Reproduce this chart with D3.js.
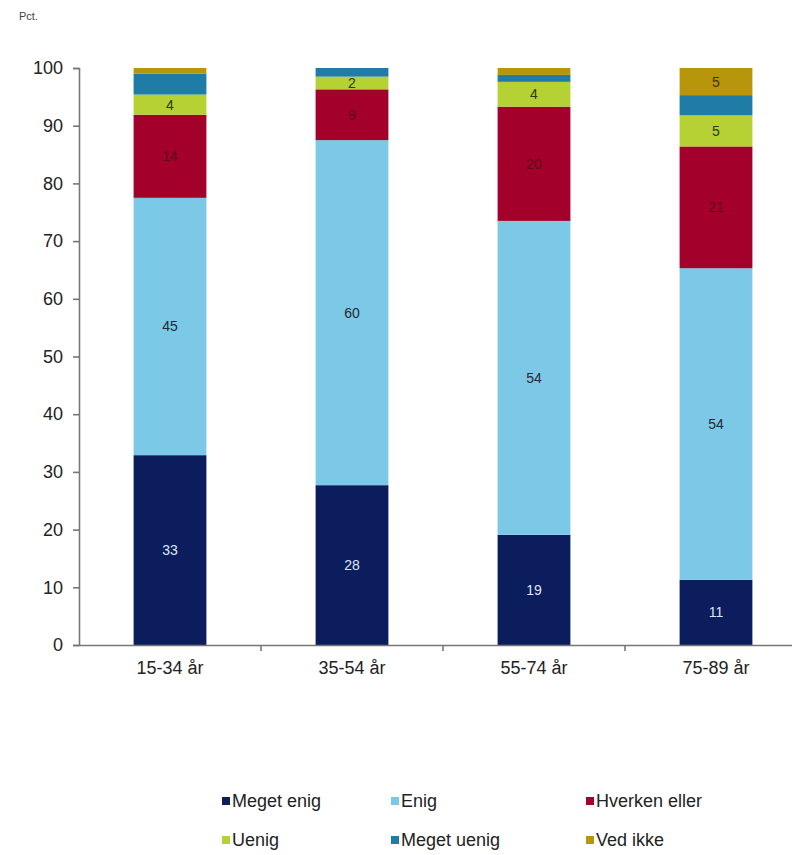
<!DOCTYPE html>
<html>
<head>
<meta charset="utf-8">
<script src="https://cdn.jsdelivr.net/npm/d3@7"></script>
<style>
  html, body { margin: 0; padding: 0; background: #fff; }
  svg { display: block; font-family: "Liberation Sans", Arial, sans-serif; }
</style>
</head>
<body>
<div id="chart"></div>
<script>
/* Data (pct. per age group) */
const categories = ["15-34 år", "35-54 år", "55-74 år", "75-89 år"];
const seriesNames = ["Meget enig", "Enig", "Hverken eller", "Uenig", "Meget uenig", "Ved ikke"];
const megetEnig  = [32.9, 27.7, 19.1, 11.3];
const enig       = [44.6, 59.8, 54.4, 54.0];
const hverken    = [14.4,  8.8, 19.8, 21.1];
const uenig      = [ 3.5,  2.2,  4.3,  5.4];
const megetUenig = [ 3.6,  1.5,  1.2,  3.5];
const vedIkke    = [ 1.0,  0.0,  1.2,  4.7];
const yTicks = [0, 10, 20, 30, 40, 50, 60, 70, 80, 90, 100];

const seriesValues = [megetEnig, enig, hverken, uenig, megetUenig, vedIkke];
const COLORS = ["#0b1d5c", "#7cc9e7", "#a3012c", "#b5d134", "#1f7ca6", "#b8960c"];
const LABEL_FILL = ["#dfe6f5", "#1e2a33", "#5e0a1c", "#2c3a10", "#ffffff", "#3e3200"];

const W = 792, H = 855;
const svg = d3.select("#chart").append("svg").attr("width", W).attr("height", H);

const x = d3.scaleBand().domain(categories).range([79, 807])
  .paddingInner(0.6).paddingOuter(0.3);
const y = d3.scaleLinear().domain([0, 100]).range([645, 68]);

/* "Pct." unit label */
svg.append("text").attr("x", 19).attr("y", 20)
  .style("font-size", "11px").style("fill", "#444").text("Pct.");

/* stacked segments */
const segs = [];
categories.forEach((c, i) => {
  let cum = 0;
  seriesNames.forEach((s, k) => {
    const v = seriesValues[k][i];
    segs.push({ cat: c, k, value: v, y0: cum });
    cum += v;
  });
});

svg.append("g").selectAll("rect").data(segs).enter().append("rect")
  .attr("x", d => x(d.cat)).attr("width", x.bandwidth())
  .attr("y", d => y(d.y0 + d.value))
  .attr("height", d => y(d.y0) - y(d.y0 + d.value))
  .attr("fill", d => COLORS[d.k]);

/* value labels: not for "Meget uenig", and only for segments >= 2 */
svg.append("g").selectAll("text").data(segs.filter(d => d.k !== 4 && d.value >= 2))
  .enter().append("text")
  .attr("x", d => x(d.cat) + x.bandwidth() / 2)
  .attr("y", d => y(d.y0 + d.value / 2))
  .attr("text-anchor", "middle").attr("dominant-baseline", "central")
  .style("font-size", "14px")
  .style("fill", d => LABEL_FILL[d.k])
  .text(d => Math.round(d.value));

/* y axis */
const yAxis = svg.append("g").attr("transform", "translate(79,0)")
  .call(d3.axisLeft(y).tickValues(yTicks).tickSize(6).tickPadding(10));
yAxis.selectAll("text").style("font-size", "18px").style("fill", "#222")
  .style("font-family", "'Liberation Sans', Arial, sans-serif");
yAxis.select(".domain").attr("stroke", "#777").attr("stroke-width", 1.6);
yAxis.selectAll(".tick line").attr("stroke", "#777").attr("stroke-width", 1.6);

/* x axis */
const xAxis = svg.append("g").attr("transform", "translate(0,645)")
  .call(d3.axisBottom(x).tickSize(0).tickPadding(16));
xAxis.selectAll("text").style("font-size", "18px").style("fill", "#222")
  .style("font-family", "'Liberation Sans', Arial, sans-serif");
xAxis.select(".domain").attr("stroke", "#777").attr("stroke-width", 1.6);

/* boundary tick marks between categories */
const bounds = categories.slice(1).map(c => x(c) - (x.step() - x.bandwidth()) / 2);
xAxis.selectAll(".bound").data(bounds).enter().append("line")
  .attr("x1", d => d).attr("x2", d => d).attr("y1", 0).attr("y2", 6)
  .attr("stroke", "#777").attr("stroke-width", 1.6);

/* legend, 3 columns x 2 rows */
const legCols = [222, 391, 586];
const legRows = [801, 840];
const leg = svg.append("g");
seriesNames.forEach((name, k) => {
  const gx = legCols[k % 3], gy = legRows[Math.floor(k / 3)];
  const item = leg.append("g").attr("transform", `translate(${gx},${gy})`);
  item.append("rect").attr("x", 0).attr("y", -4).attr("width", 8).attr("height", 8)
    .attr("fill", COLORS[k]);
  item.append("text").attr("x", 10).attr("y", 0).attr("dominant-baseline", "central")
    .style("font-size", "18px").style("fill", "#222").text(name);
});
</script>
</body>
</html>
